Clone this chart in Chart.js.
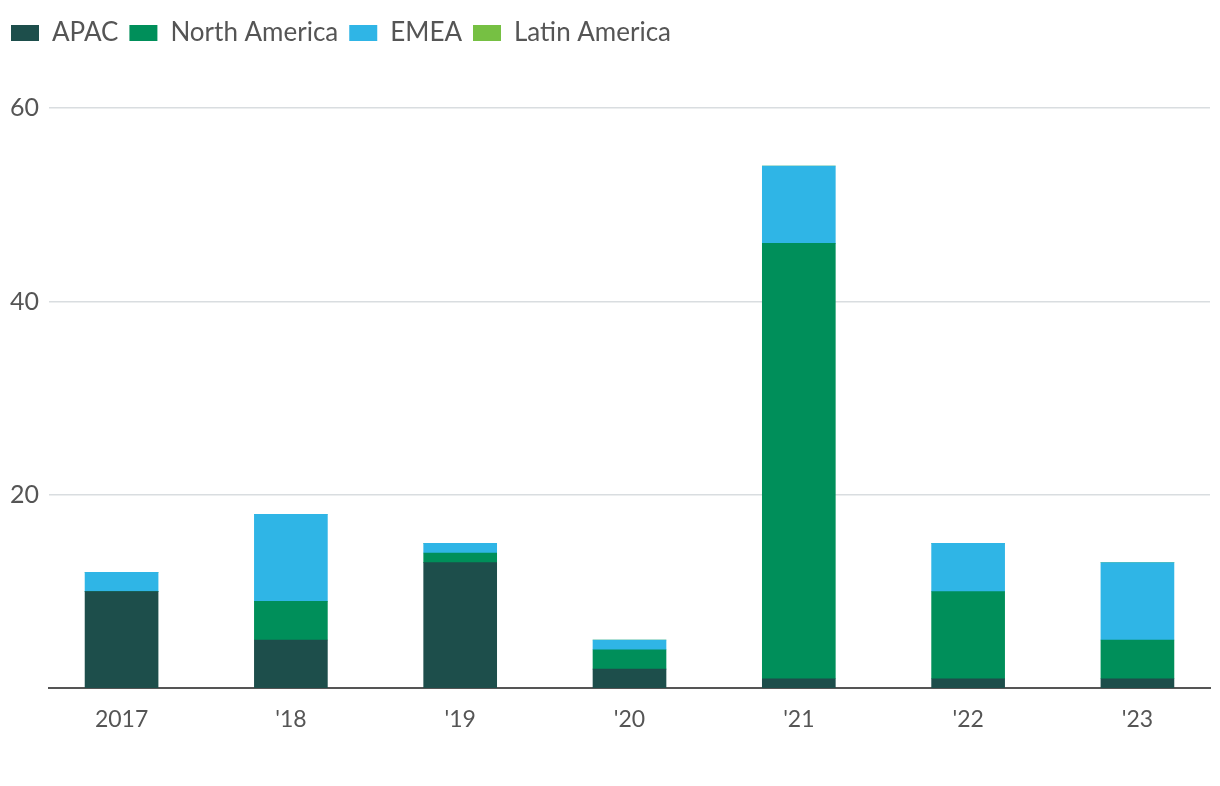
<!DOCTYPE html>
<html>
<head>
<meta charset="utf-8">
<title>Regional breakdown</title>
<script src="https://cdn.jsdelivr.net/npm/chart.js@4/dist/chart.umd.min.js"></script>
<style>
  html, body { margin: 0; padding: 0; background: #fff; }
  #wrap { width: 1220px; height: 786px; position: relative; }
</style>
</head>
<body>
<div id="wrap"><canvas id="chart"></canvas></div>
<script>
// Data

const years         = ['2017', "'18", "'19", "'20", "'21", "'22", "'23"];
const apac          = [10, 5, 13, 2, 1, 1, 1];
const northAmerica  = [0, 4, 1, 2, 45, 9, 4];
const emea          = [2, 9, 1, 1, 8, 5, 8];
const latinAmerica  = [0, 0, 0, 0, 0, 0, 0];
const yTicks        = [20, 40, 60];

const TEXT = '#555555';
const FONT = 'Lato, "Open Sans", sans-serif';

// bars sit on a linear x axis by index so the outer margins can differ
const toPoints = arr => arr.map((v, i) => ({ x: i, y: v }));

function series(label, values, color) {
  return {
    label,
    data: toPoints(values),
    backgroundColor: color,
    borderWidth: 0,
    barThickness: 73,
  };
}

// extra gap between the legend and the plot
const legendGap = {
  id: 'legendGap',
  beforeInit(chart) {
    const fit = chart.legend.fit;
    chart.legend.fit = function () {
      fit.call(this);
      this.height += 52;
    };
  },
};

new Chart(document.getElementById('chart'), {
  type: 'bar',
  data: {
    datasets: [
      series('APAC', apac, '#1d4e4b'),
      series('North America', northAmerica, '#008f5a'),
      series('EMEA', emea, '#2fb5e6'),
      series('Latin America', latinAmerica, '#76c043'),
    ],
  },
  options: {
    responsive: true,
    maintainAspectRatio: false,
    animation: false,
    layout: { padding: { left: 0, right: 10, top: 9, bottom: 36 } },
    plugins: {
      tooltip: { enabled: false },
      legend: {
        position: 'top',
        align: 'start',
        labels: {
          color: TEXT,
          font: { family: FONT, size: 26 },
          boxWidth: 28,
          boxHeight: 16,
          padding: 11,
        },
      },
    },
    scales: {
      x: {
        type: 'linear',
        stacked: true,
        offset: false,
        min: -0.4286,
        max: 6.4286,
        grid: { display: false, drawTicks: false, offset: false },
        border: { display: true, color: '#555555', width: 2 },
        ticks: {
          stepSize: 1,
          autoSkip: false,
          maxRotation: 0,
          includeBounds: false,
          padding: 17,
          color: TEXT,
          font: { family: FONT, size: 23 },
          callback: v => (Number.isInteger(v) && years[v] !== undefined) ? years[v] : '',
        },
      },
      y: {
        stacked: true,
        min: 0,
        max: 60,
        grid: {
          color: ctx => ctx.tick && ctx.tick.value === 0 ? 'rgba(0,0,0,0)' : '#d9dde0',
          lineWidth: 1.5,
          drawTicks: false,
        },
        border: { display: false },
        afterBuildTicks: axis => {
          axis.ticks = [0, ...yTicks].map(value => ({ value }));
        },
        ticks: {
          padding: 10,
          color: TEXT,
          font: { family: FONT, size: 25 },
          callback: v => v === 0 ? '' : v,
        },
      },
    },
  },
  plugins: [legendGap],
});
</script>
</body>
</html>
